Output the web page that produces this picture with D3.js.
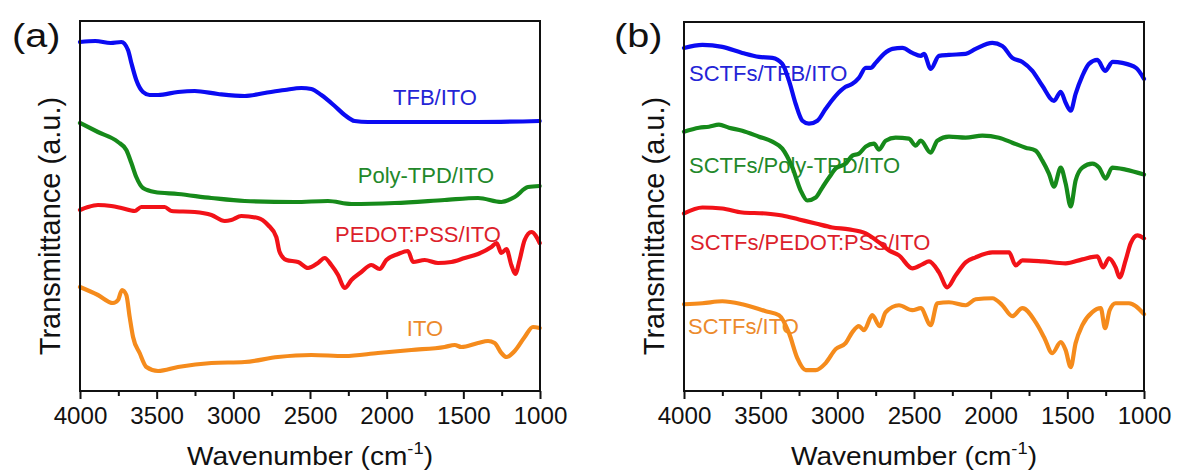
<!DOCTYPE html>
<html><head><meta charset="utf-8">
<script src="https://cdn.jsdelivr.net/npm/d3@7"></script>
<style>body{margin:0;background:#fff}svg{display:block}text{font-family:"Liberation Sans",Arial,sans-serif}</style>
</head><body>
<svg id="c" width="1177" height="473"></svg>
<script>
// ---- data (wavenumber cm-1, transmittance a.u.) ----
const majorTicks = [4000,3500,3000,2500,2000,1500,1000];
const minorTicks = [3750,3250,2750,2250,1750,1250];

const tfbITO = [[4000,349],[3900,350],[3800,348],[3730,349],[3687,341],[3665,328],[3633,311],[3589,299],[3546,296],[3491,296],[3361,299],[3252,300],[3100,297],[2926,295],[2796,298],[2665,301],[2556,303],[2491,302],[2426,296],[2339,285],[2274,276],[2209,270],[2122,269],[1839,269],[1404,269],[1002,270]];
const polyITO = [[4000,268],[3883,259],[3752,249],[3698,241],[3665,228],[3633,214],[3589,203],[3513,199],[3361,197],[3143,193],[2926,190],[2600,189],[2383,190],[2230,187],[1948,188],[1622,191],[1404,193],[1252,189],[1165,194],[1078,204],[1002,205]];
const pedotITO = [[4000,181],[3948,184],[3883,186],[3796,185],[3730,183],[3643,180],[3600,184],[3448,184],[3404,180],[3252,179],[3143,176],[3056,170],[3013,171],[2948,175],[2839,173],[2774,166],[2720,154],[2698,139],[2654,131],[2578,129],[2513,123],[2448,128],[2404,133],[2361,126],[2317,116],[2274,103],[2230,111],[2165,119],[2100,126],[2046,122],[2002,131],[1926,137],[1861,140],[1828,129],[1752,131],[1665,128],[1578,129],[1491,133],[1404,137],[1317,144],[1283,148],[1252,138],[1219,142],[1187,126],[1161,117],[1133,131],[1100,151],[1056,159],[1002,148]];
const ito = [[4000,104],[3883,96],[3785,88],[3752,91],[3726,101],[3698,96],[3676,74],[3654,54],[3611,38],[3567,24],[3491,20],[3361,24],[3143,28],[2926,29],[2709,34],[2491,36],[2274,35],[2057,38],[1839,41],[1622,44],[1556,46],[1513,44],[1404,48],[1339,50],[1296,48],[1252,38],[1219,34],[1165,40],[1100,54],[1046,64],[1002,63]];

const sTfb = [[4000,344],[3880,347],[3750,345],[3620,339],[3511,335],[3424,334],[3359,328],[3315,311],[3272,288],[3228,271],[3185,268],[3130,271],[3076,283],[3011,296],[2946,305],[2902,308],[2859,314],[2815,324],[2783,324],[2750,329],[2696,338],[2641,343],[2576,344],[2511,339],[2456,336],[2435,338],[2391,323],[2337,336],[2272,337],[2163,338],[2098,343],[1989,349],[1924,346],[1859,334],[1793,330],[1728,321],[1663,306],[1587,291],[1543,300],[1511,289],[1478,281],[1446,298],[1402,316],[1359,328],[1304,332],[1254,321],[1204,330],[1141,329],[1052,324],[1000,313]];
const sPoly = [[4000,260],[3902,264],[3837,265],[3772,267],[3707,264],[3620,261],[3511,255],[3424,250],[3359,243],[3293,224],[3239,201],[3196,191],[3141,194],[3098,204],[3054,214],[3011,223],[2946,228],[2902,236],[2859,238],[2815,245],[2761,248],[2728,242],[2685,251],[2620,254],[2533,253],[2489,246],[2456,251],[2391,239],[2348,251],[2272,255],[2163,254],[2054,256],[1946,254],[1859,249],[1772,244],[1707,241],[1663,231],[1620,218],[1587,205],[1543,224],[1511,208],[1478,185],[1446,211],[1402,224],[1337,228],[1293,224],[1250,213],[1207,224],[1120,222],[1000,217]];
const sPedot = [[4000,178],[3880,184],[3750,183],[3620,179],[3467,178],[3359,176],[3250,172],[3141,168],[3033,164],[2924,162],[2815,158],[2728,149],[2663,141],[2598,136],[2511,123],[2446,127],[2402,130],[2337,119],[2283,104],[2228,116],[2163,129],[2098,134],[1989,139],[1880,139],[1837,126],[1793,131],[1663,130],[1511,128],[1402,132],[1304,135],[1267,124],[1228,133],[1185,124],[1159,114],[1120,131],[1087,148],[1043,156],[1000,153]];
const sIto = [[4000,87],[3880,88],[3750,90],[3620,87],[3467,80],[3380,76],[3315,58],[3261,33],[3206,21],[3141,21],[3076,28],[3011,42],[2946,48],[2902,59],[2859,65],[2826,61],[2772,76],[2724,65],[2685,79],[2598,86],[2511,81],[2456,83],[2391,66],[2348,88],[2272,89],[2163,86],[2098,92],[1989,93],[1924,86],[1859,75],[1793,83],[1707,69],[1652,54],[1598,38],[1543,49],[1511,41],[1478,24],[1446,48],[1402,66],[1337,79],[1282,83],[1254,63],[1224,81],[1185,88],[1098,88],[1000,77]];

const seriesA = [
  {name:"TFB/ITO", data:tfbITO, line:"#0b0bf2", text:"#2424d6", lx:435, ly:105, anchor:"middle"},
  {name:"Poly-TPD/ITO", data:polyITO, line:"#168a1a", text:"#22882a", lx:426, ly:183, anchor:"middle"},
  {name:"PEDOT:PSS/ITO", data:pedotITO, line:"#f21218", text:"#dc1f2c", lx:418, ly:242, anchor:"middle"},
  {name:"ITO", data:ito, line:"#f58b1c", text:"#ec8a2c", lx:425, ly:336, anchor:"middle"}
];
const seriesB = [
  {name:"SCTFs/TFB/ITO", data:sTfb, line:"#0b0bf2", text:"#2424d6", lx:689, ly:81, anchor:"start"},
  {name:"SCTFs/Poly-TPD/ITO", data:sPoly, line:"#168a1a", text:"#22882a", lx:689, ly:173, anchor:"start"},
  {name:"SCTFs/PEDOT:PSS/ITO", data:sPedot, line:"#f21218", text:"#dc1f2c", lx:690, ly:250, anchor:"start"},
  {name:"SCTFs/ITO", data:sIto, line:"#f58b1c", text:"#ec8a2c", lx:688, ly:334, anchor:"start"}
];

const svg = d3.select("#c");

function panel(cfg){
  const x = d3.scaleLinear().domain([4000,1000]).range([cfg.left, cfg.right]);
  const y = d3.scaleLinear().domain([0,370]).range([cfg.bottom, cfg.top]);
  const g = svg.append("g");

  cfg.series.forEach(s=>{
    g.append("text").attr("x", s.lx).attr("y", s.ly).attr("text-anchor", s.anchor)
      .attr("font-size", 22).attr("fill", s.text).text(s.name);
  });

  const line = d3.line().x(d=>x(d[0])).y(d=>y(d[1])).curve(d3.curveMonotoneX);
  cfg.series.forEach(s=>{
    g.append("path").attr("d", line(s.data)).attr("fill","none")
      .attr("stroke", s.line).attr("stroke-width", 4.2)
      .attr("stroke-linejoin","round").attr("stroke-linecap","round");
  });

  g.append("rect").attr("x", cfg.left).attr("y", cfg.top)
    .attr("width", cfg.right-cfg.left).attr("height", cfg.bottom-cfg.top)
    .attr("fill","none").attr("stroke","#111").attr("stroke-width",2);

  const ax = g.append("g").attr("transform", `translate(0,${cfg.bottom})`)
    .call(d3.axisBottom(x).tickValues(majorTicks).tickSize(8).tickFormat(d3.format("d")));
  ax.select(".domain").remove();
  ax.selectAll(".tick line").attr("stroke","#111").attr("stroke-width",2);
  ax.selectAll(".tick text").remove();
  ax.selectAll(".tick").append("text")
    .attr("transform","translate(0,33) scale(1.05,1)")
    .attr("text-anchor","middle").attr("font-size",23).attr("fill","#111")
    .text(d=>d);
  const mx = g.append("g").attr("transform", `translate(0,${cfg.bottom})`)
    .call(d3.axisBottom(x).tickValues(minorTicks).tickSize(5).tickFormat(""));
  mx.select(".domain").remove();
  mx.selectAll(".tick line").attr("stroke","#111").attr("stroke-width",2);

  const cx = (cfg.left+cfg.right)/2;
  const xt = g.append("text").attr("transform",`translate(${cx},465) scale(1.08,1)`)
    .attr("text-anchor","middle").attr("font-size",26).attr("fill","#111");
  xt.append("tspan").text("Wavenumber (cm");
  xt.append("tspan").attr("font-size",17).attr("dy",-11).text("-1");
  xt.append("tspan").attr("dy",11).text(")");

  g.append("text").attr("transform",`translate(${cfg.left-20.5},226) rotate(-90)`)
    .attr("text-anchor","middle").attr("font-size",29).attr("fill","#111")
    .text("Transmittance (a.u.)");

  g.append("text").attr("transform",`translate(${cfg.plx},47) scale(1.2,1)`)
    .attr("font-size",33).attr("fill","#111").text(cfg.tag);
}

panel({left:80, right:540, top:21, bottom:391, series:seriesA, tag:"(a)", plx:12});
panel({left:684, right:1144, top:22, bottom:391, series:seriesB, tag:"(b)", plx:614});
</script>
</body></html>
